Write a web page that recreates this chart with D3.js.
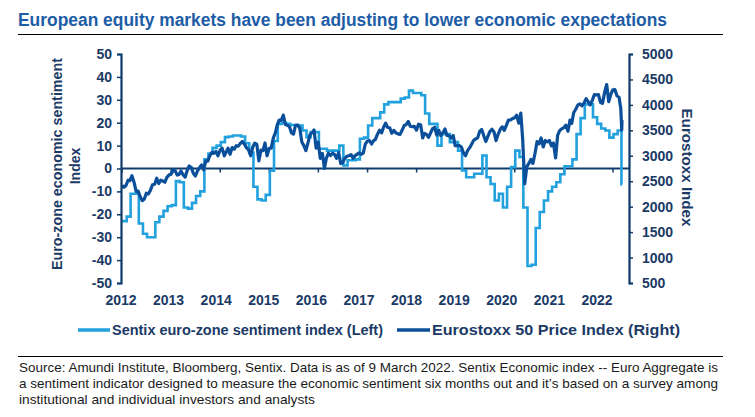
<!DOCTYPE html>
<html><head><meta charset="utf-8">
<script src="https://cdn.jsdelivr.net/npm/d3@7"></script>
<style>body{margin:0;background:#fff}svg{display:block;font-family:"Liberation Sans",Arial,sans-serif}</style>
</head><body><svg id="c" width="755" height="417"></svg>
<script>
const titleText = "European equity markets have been adjusting to lower economic expectations";
const years = ["2012","2013","2014","2015","2016","2017","2018","2019","2020","2021","2022"];
const leftTicks = [-50,-40,-30,-20,-10,0,10,20,30,40,50];
const rightTicks = [500,1000,1500,2000,2500,3000,3500,4000,4500,5000];
const seriesNames = ["Sentix euro-zone sentiment index (Left)", "Eurostoxx 50 Price Index (Right)"];
const sourceLines = [
 "Source: Amundi Institute, Bloomberg, Sentix. Data is as of 9 March 2022. Sentix Economic index -- Euro Aggregate is",
 "a sentiment indicator designed to measure the economic sentiment six months out and it\u2019s based on a survey among",
 "institutional and individual investors and analysts"
];
// Sentix monthly values, Jan 2012 - Mar 2022
const sentix = [
 -23,-21,-11,-11,-24,-28.5,-30,-30,-23.5,-21,-18.5,-16.5,
 -16,-5.5,-6,-17,-17.5,-15,-12,-10,4,6.5,9,10,
 11.5,13.7,14,14.4,14.4,14,11,7,-8,-13.5,-14,-11.5,
 -1,12,19.5,20,19.5,19,19,18.8,16.6,13.7,15.9,15.9,
 8.6,8.6,7.8,7.8,7.8,10,1.3,3.6,3.6,4,13,13.5,
 18.8,22,22,24.5,28,29,29,29,30.5,31,34,33,
 33,32,24,19.5,19.5,10,15,15,11.5,11.5,7.8,-0.9,
 -3.8,-3.8,-2.3,-2.3,5.7,-3.8,-6.8,-14,-11,-17,-8,0.6,
 7.8,5,-17,-42.6,-42,-26,-19,-14,-10,-8,-6,-2.5,
 1,1,4,15,22,28,28,22.4,19.5,17.5,16.6,13.5,
 15,16.6,-7
];
const sentixEnd = "2022-03-09";
// Eurostoxx 50, mid-month and month-end values, Jan 2012 - Feb 2022
const stoxxHeadDates = ["2012-01-02"];
const stoxxHeadValues = [2420];
const stoxx = [
 2380,2416,2520,2512,2610,2477,2300,2306,2200,2118,2150,2264,2250,2325,2430,2440,2560,2454,2520,2503,2480,2575,2620,2636,
 2720,2703,2620,2633,2700,2624,2580,2712,2800,2769,2650,2603,2700,2768,2820,2721,2900,2893,3000,3068,3050,3086,3000,3109,
 3150,2998,3080,3149,3030,3162,3130,3198,3190,3245,3280,3228,3160,3116,3000,3173,3250,3226,2900,3113,3100,3251,3000,3146,
 3150,3351,3450,3599,3700,3697,3800,3615,3600,3570,3450,3424,3600,3601,3550,3270,3200,3101,3250,3418,3450,3506,3150,3268,
 2950,3045,2750,2946,3050,3005,3050,3028,2950,3063,2850,2865,2950,2990,3000,3023,2950,3002,3030,3055,3030,3052,3230,3291,
 3300,3231,3300,3320,3420,3501,3450,3560,3640,3555,3550,3442,3500,3450,3430,3421,3500,3595,3610,3674,3580,3570,3580,3504,
 3620,3609,3350,3439,3420,3362,3450,3536,3560,3406,3500,3396,3450,3526,3400,3393,3350,3399,3200,3198,3200,3173,3060,3001,
 3100,3159,3230,3298,3330,3352,3480,3515,3400,3280,3380,3474,3520,3467,3300,3427,3520,3569,3500,3604,3700,3703,3730,3745,
 3800,3640,3840,3329,2450,2787,2850,2928,2850,3050,3280,3234,3350,3174,3300,3273,3300,3194,3250,2958,3400,3493,3530,3553,
 3600,3481,3700,3636,3850,3919,4000,4020,3980,4039,4120,4064,4000,4089,4200,4196,4200,4048,4030,4250,4400,4063,4200,4298,
 4300,4175,4150,3924
];
const stoxxTailDates = ["2022-03-07","2022-03-09"];
const stoxxTailValues = [3505,3700];

const C = {light:"#22a1de", dark:"#0b4f9b", axis:"#0e3b6a", text:"#1b3a66", title:"#1d5ca6"};
const svg = d3.select("#c");
const parse = d3.utcParse("%Y-%m-%d");

const x = d3.scaleUtc().domain([parse("2012-01-01"), parse("2022-01-01")]).range([122, 613]);
const yL = d3.scaleLinear().domain([-50, 50]).range([283, 54]);
const yR = d3.scaleLinear().domain([500, 5000]).range([283, 54]);
const xLab = d3.scalePoint().domain(years).range([121, 597]);

// title
svg.append("text").attr("x", 18).attr("y", 26).attr("fill", C.title)
  .attr("font-size", 17.5).attr("font-weight", "bold")
  .attr("textLength", 649).attr("lengthAdjust", "spacingAndGlyphs").text(titleText);
svg.append("line").attr("x1", 18).attr("x2", 723).attr("y1", 34.5).attr("y2", 34.5)
  .attr("stroke", "#000").attr("stroke-width", 1.2);

// data
const sentixData = sentix.map((v, i) => ({d: new Date(Date.UTC(2012, i, 5)), v}));
sentixData[0].d = parse("2012-01-01");
sentixData.push({d: parse(sentixEnd), v: sentix[sentix.length - 1]});
const stoxxData = [];
stoxxHeadDates.forEach((s, i) => stoxxData.push({d: parse(s), v: stoxxHeadValues[i]}));
stoxx.forEach((v, i) => {
  const m = Math.floor(i / 2);
  const d = i % 2 === 0 ? new Date(Date.UTC(2012, m, 15)) : new Date(Date.UTC(2012, m + 1, 0));
  stoxxData.push({d, v});
});
stoxxTailDates.forEach((s, i) => stoxxData.push({d: parse(s), v: stoxxTailValues[i]}));

// zero line and ticks
svg.append("line").attr("x1", 121).attr("x2", 629).attr("y1", yL(0)).attr("y2", yL(0))
  .attr("stroke", C.axis).attr("stroke-width", 2);
const xTicks = d3.utcYear.range(parse("2012-01-01"), parse("2022-01-02"));
svg.append("g").selectAll("line").data(xTicks).join("line")
  .attr("x1", d => x(d)).attr("x2", d => x(d)).attr("y1", yL(0)).attr("y2", yL(0) + 4)
  .attr("stroke", C.axis).attr("stroke-width", 1.5);

// lines
svg.append("path").datum(sentixData)
  .attr("d", d3.line().x(d => x(d.d)).y(d => yL(d.v)).curve(d3.curveStepAfter))
  .attr("fill", "none").attr("stroke", C.light).attr("stroke-width", 2.6);
svg.append("path").datum(stoxxData)
  .attr("d", d3.line().x(d => x(d.d)).y(d => yR(d.v)))
  .attr("fill", "none").attr("stroke", C.dark).attr("stroke-width", 3.2).attr("stroke-linejoin", "round");

// axes
const styleAxis = g => {
  g.select(".domain").attr("stroke", C.axis).attr("stroke-width", 2.2);
  g.selectAll(".tick line").attr("stroke", C.axis).attr("stroke-width", 1.5);
  g.selectAll(".tick text").attr("fill", C.text).attr("font-size", 14).attr("font-weight", "bold")
    .attr("font-family", '"Liberation Sans",Arial,sans-serif');
};
const fmt = d => String(d);
svg.append("g").attr("transform", "translate(121,0)")
  .call(d3.axisLeft(yL).tickValues(leftTicks).tickFormat(fmt).tickSize(4).tickSizeOuter(4).tickPadding(5))
  .call(styleAxis);
svg.append("g").attr("transform", "translate(629,0)")
  .call(d3.axisRight(yR).tickValues(rightTicks).tickFormat(fmt).tickSize(4).tickSizeOuter(4).tickPadding(9))
  .call(styleAxis);

// year labels
svg.append("g").selectAll("text").data(years).join("text")
  .attr("x", d => xLab(d)).attr("y", 305).attr("text-anchor", "middle")
  .attr("fill", C.text).attr("font-size", 14).attr("font-weight", "bold").text(d => d);

// axis titles
const lt = svg.append("g").attr("fill", C.text).attr("font-size", 14).attr("font-weight", "bold");
lt.append("text").attr("transform", "translate(57,164) rotate(-90)").attr("text-anchor", "middle")
  .attr("dy", "0.35em").attr("textLength", 212).attr("lengthAdjust", "spacingAndGlyphs")
  .text("Euro-zone economic sentiment");
lt.append("text").attr("transform", "translate(75,166) rotate(-90)").attr("text-anchor", "middle")
  .attr("dy", "0.35em").text("Index");
lt.append("text").attr("transform", "translate(687,167.5) rotate(90)").attr("text-anchor", "middle")
  .attr("dy", "0.35em").attr("textLength", 118).attr("lengthAdjust", "spacingAndGlyphs").text("Eurostoxx Index");

// legend
const leg = [
  {name: seriesNames[0], color: C.light, x1: 78, x2: 110, tx: 112, len: 271},
  {name: seriesNames[1], color: C.dark, x1: 397, x2: 430, tx: 432, len: 248}
];
leg.forEach(l => {
  svg.append("line").attr("x1", l.x1).attr("x2", l.x2).attr("y1", 330).attr("y2", 330)
    .attr("stroke", l.color).attr("stroke-width", 3.5);
  svg.append("text").attr("x", l.tx).attr("y", 335).attr("fill", C.text)
    .attr("font-size", 14).attr("font-weight", "bold")
    .attr("textLength", l.len).attr("lengthAdjust", "spacingAndGlyphs").text(l.name);
});

// source
svg.append("line").attr("x1", 18).attr("x2", 723).attr("y1", 356.5).attr("y2", 356.5)
  .attr("stroke", "#000").attr("stroke-width", 1.2);
const srcLens = [699, 699, 296];
const srcY = [372, 388, 404];
sourceLines.forEach((s, i) => {
  svg.append("text").attr("x", 19).attr("y", srcY[i]).attr("fill", "#1a1a1a")
    .attr("font-size", 13.5).attr("font-family", '"Liberation Sans Narrow","Liberation Sans",Arial,sans-serif')
    .attr("textLength", srcLens[i]).attr("lengthAdjust", "spacingAndGlyphs").text(s);
});
</script></body></html>
